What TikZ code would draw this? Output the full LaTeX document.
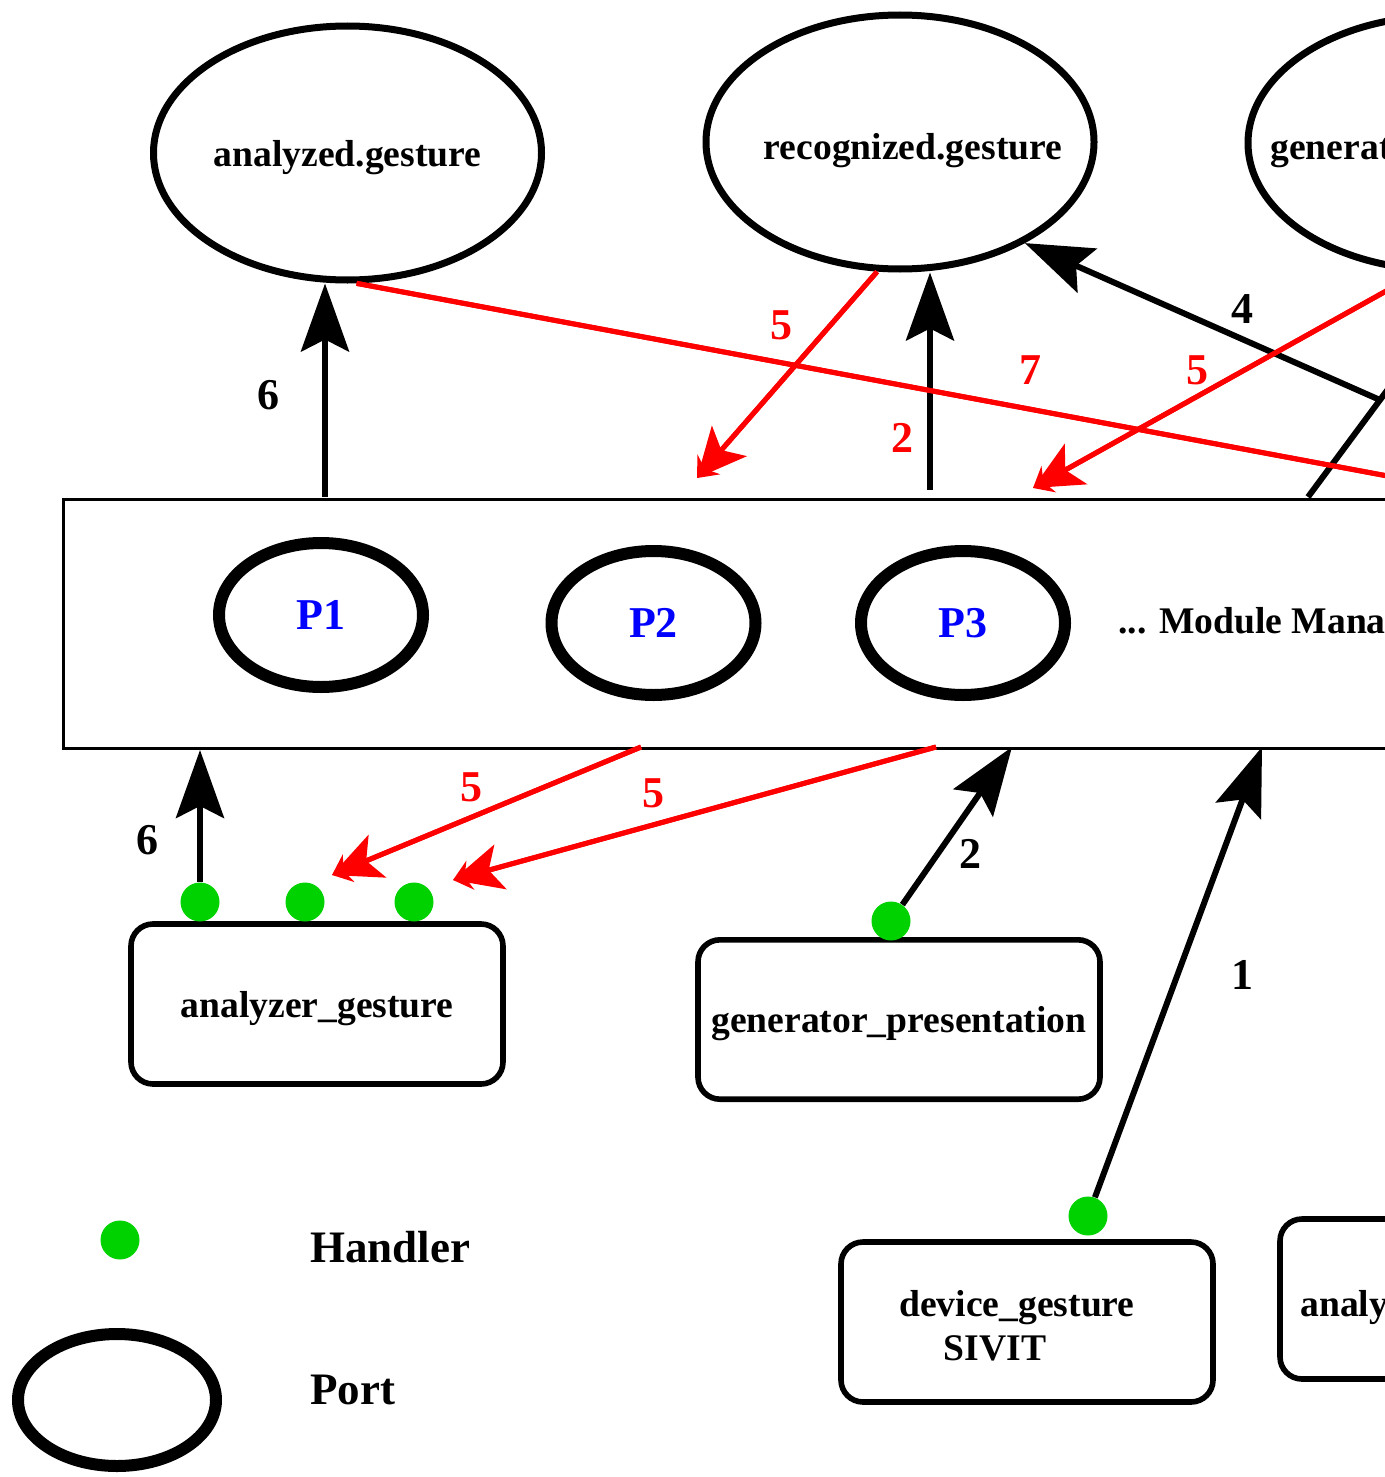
\documentclass[tikz,border=0pt]{standalone}
\usepackage{fontspec}
\setmainfont{Liberation Serif}
\usetikzlibrary{arrows.meta,shapes.geometric}
\definecolor{hgreen}{RGB}{0,210,0}
\begin{document}
\begin{tikzpicture}[x=0.5pt,y=-0.5pt,
  lbl/.style={inner sep=0pt,text height=13pt,text depth=0pt,font=\fontsize{18.8pt}{22pt}\selectfont\bfseries},
  big/.style={inner sep=0pt,font=\fontsize{22.5pt}{26pt}\selectfont\bfseries},
  num/.style={inner sep=0pt,font=\fontsize{22pt}{26pt}\selectfont\bfseries},
  topic/.style={ellipse,draw,line width=3.5pt,minimum width=194pt,minimum height=127pt,inner sep=0pt,lbl},
  port/.style={ellipse,draw,line width=6pt,minimum width=102pt,minimum height=72pt,inner sep=0pt,text=blue,font=\fontsize{22pt}{24pt}\selectfont\bfseries},
  module/.style={draw,line width=2.8pt,rounded corners=11pt,minimum width=186pt,minimum height=80pt,inner sep=0pt,lbl},
  handler/.style={circle,fill=hgreen,minimum size=19.5pt,inner sep=0pt},
  blk/.style={line width=3pt,-{Stealth[length=34pt,width=24pt,inset=6pt]}},
  rd/.style={red,line width=2.5pt,-{Stealth[length=24.5pt,width=23pt,inset=6pt]},
    postaction={draw,red,line width=2.5pt,-{Stealth[length=9pt,width=15pt,inset=3pt]}}}
]
\useasboundingbox (0,0) rectangle (1385,1477);
\clip (0,0) rectangle (1385,1477);

% topics
\node[topic] (ag) at (347.5,153) {analyzed.gesture};
\node[topic] (rg) at (900,142) {};
\node[lbl] (rgt) at (913,146) {recognized.gesture};
\node[topic] (gg) at (1442,143) {};
\node[lbl,anchor=west] (ggt) at (1270,146) {generat};

% module manager
\node[draw,line width=1.5pt,minimum width=850pt,minimum height=124.75pt,inner sep=0pt,anchor=north west] (mm) at (61.5,497.5) {};
\node[lbl,anchor=west] (mmt) at (1118,620) {... Module Mana};
\node[port] (p1) at (321,615) {P1};
\node[port] (p2) at (653.5,623) {P2};
\node[port] (p3) at (963,623) {P3};

% modules
\node[module] (ana) at (317,1004) {analyzer\_gesture};
\node[module,minimum width=201pt,minimum height=79.7pt] (gen) at (899,1019.5) {generator\_presentation};
\node[module] (dev) at (1027,1322) {};
\node[lbl] (devt) at (1017,1303) {device\_gesture};
\node[lbl] (devs) at (995,1347) {SIVIT};
\node[module] (an2) at (1466,1299) {};
\node[lbl,anchor=west] (an2t) at (1300,1303) {analy};

% handlers
\node[handler] (h1) at (200,902) {};
\node[handler] (h2) at (305,902) {};
\node[handler] (h3) at (414,902) {};
\node[handler] (h4) at (891,921) {};
\node[handler] (h5) at (1088,1216) {};

% legend
\node[handler] (hl) at (120,1240) {};
\node[big,anchor=west] (hlt) at (310,1247) {Handler};
\node[port,minimum width=99pt,minimum height=66pt] (pl) at (117,1400) {};
\node[big,anchor=west] (plt) at (310,1390) {Port};

% connections above the manager
\coordinate (mmA) at (325,497);
\coordinate (mmB) at (930,490);
\coordinate (mmC) at (1308,497);
\coordinate (sx) at (1420,346);
\coordinate (j4) at (1380,400);
\coordinate (r5a) at (697,478);
\coordinate (r5b) at (1033,488);
\coordinate (r7) at (1500,497);
\draw[blk] (mmA) -- (mmA |- ag.south);
\draw[blk] (mmB) -- (mmB |- rg.south);
\draw[line width=3pt] (mmC) -- (sx);
\draw[blk] (j4) -- (rg.-39);
\draw[rd] (rg.-100) -- (r5a);
\draw[rd] (gg.-100) -- (r5b);
\draw[rd] (ag.-86) -- (r7);

% connections below the manager
\coordinate (b5a) at (641,747);
\coordinate (e5a) at (332,875);
\coordinate (b5b) at (936,747);
\coordinate (e5b) at (453,880);
\coordinate (b2) at (1012,747);
\coordinate (b1) at (1262,747);
\draw[blk] (h1) -- (h1 |- mm.south);
\draw[rd] (b5a) -- (e5a);
\draw[rd] (b5b) -- (e5b);
\draw[blk] (h4) -- (b2);
\draw[blk] (h5) -- (b1);

% labels
\node[num] (n6a) at (268,395) {6};
\node[num,red] (n5a) at (781,325) {5};
\node[num,red] (n7) at (1030,370) {7};
\node[num,red] (n5b) at (1197,370) {5};
\node[num,red] (n2a) at (902,438) {2};
\node[num] (n4) at (1242,309) {4};
\node[num,red] (n5c) at (471,787) {5};
\node[num,red] (n5d) at (653,793) {5};
\node[num] (n2b) at (970,854) {2};
\node[num] (n1) at (1242,975) {1};
\node[num] (n6b) at (147,840) {6};
\end{tikzpicture}
\end{document}
